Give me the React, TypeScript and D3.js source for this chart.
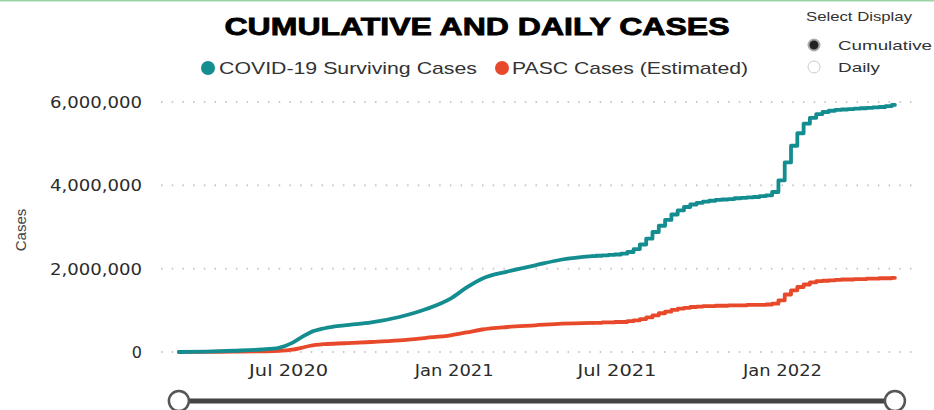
import React from "react";
import * as d3 from "d3";

// Daily-reported period (smooth cumulative totals)
const dailyDates = [
  "2020-03-01", "2020-04-01", "2020-05-01", "2020-06-01", "2020-06-20", "2020-07-05",
  "2020-07-15", "2020-07-25", "2020-08-10", "2020-09-01", "2020-10-01", "2020-11-01",
  "2020-12-01", "2020-12-28", "2021-01-15", "2021-02-01", "2021-03-01", "2021-04-01",
  "2021-05-01", "2021-06-04",
];
const survivingDaily = [
  0, 10000, 30000, 60000, 100000, 220000, 350000, 470000, 570000, 640000, 710000, 840000,
  1030000, 1280000, 1550000, 1760000, 1930000, 2080000, 2220000, 2300000,
];
const pascDaily = [
  0, 3000, 8000, 15000, 25000, 55000, 100000, 150000, 190000, 210000, 240000, 280000,
  340000, 400000, 470000, 540000, 600000, 640000, 680000, 700000,
];

// Weekly-reported period (Friday updates)
const weeklyDates = [
  "2021-06-04", "2021-06-11", "2021-06-18", "2021-06-25", "2021-07-02", "2021-07-09",
  "2021-07-16", "2021-07-23", "2021-07-30", "2021-08-06", "2021-08-13", "2021-08-20",
  "2021-08-27", "2021-09-03", "2021-09-10", "2021-09-17", "2021-09-24", "2021-10-01",
  "2021-10-08", "2021-10-15", "2021-10-22", "2021-10-29", "2021-11-05", "2021-11-12",
  "2021-11-19", "2021-11-26", "2021-12-03", "2021-12-10", "2021-12-17", "2021-12-24",
  "2021-12-31", "2022-01-07", "2022-01-14", "2022-01-21", "2022-01-28", "2022-02-04",
  "2022-02-11", "2022-02-18", "2022-02-25", "2022-03-04", "2022-03-11", "2022-03-18",
  "2022-03-25", "2022-04-01", "2022-04-08", "2022-04-15", "2022-04-22", "2022-04-29",
  "2022-05-06",
];
const survivingWeekly = [
  2300000, 2310000, 2320000, 2330000, 2340000, 2360000, 2400000, 2470000, 2580000,
  2720000, 2880000, 3030000, 3170000, 3300000, 3400000, 3480000, 3540000, 3580000,
  3610000, 3630000, 3650000, 3660000, 3670000, 3690000, 3700000, 3710000, 3720000,
  3740000, 3760000, 3840000, 4120000, 4550000, 4950000, 5250000, 5480000, 5620000,
  5710000, 5760000, 5790000, 5810000, 5820000, 5830000, 5840000, 5850000, 5860000,
  5870000, 5880000, 5900000, 5930000,
];
const pascWeekly = [
  700000, 700000, 710000, 710000, 720000, 720000, 740000, 760000, 790000, 830000,
  880000, 930000, 970000, 1010000, 1040000, 1060000, 1080000, 1090000, 1100000,
  1100000, 1110000, 1110000, 1120000, 1120000, 1120000, 1130000, 1130000, 1130000,
  1140000, 1160000, 1240000, 1380000, 1480000, 1560000, 1620000, 1670000, 1700000,
  1710000, 1720000, 1730000, 1740000, 1740000, 1750000, 1750000, 1760000, 1760000,
  1770000, 1770000, 1780000,
];

const yTicks = [0, 2000000, 4000000, 6000000];
const xTickDates = ["2020-07-01", "2021-01-01", "2021-07-01", "2022-01-01"];
const xDomain = ["2020-02-09", "2022-05-25"];

const seriesNames = ["COVID-19 Surviving Cases", "PASC Cases (Estimated)"];
const seriesColors = ["#138d90", "#e9492b"];
const displayOptions = ["Cumulative", "Daily"];

const W = 934;
const H = 410;
const parse = d3.utcParse("%Y-%m-%d");

export default function App() {
  const x = d3
    .scaleUtc()
    .domain(xDomain.map((d) => parse(d) as Date))
    .range([160, 912]);
  const y = d3.scaleLinear().domain([0, 6000000]).range([352, 102]);

  const smooth = d3
    .line<[Date, number]>()
    .x((d) => x(d[0]))
    .y((d) => y(d[1]))
    .curve(d3.curveMonotoneX);
  const stepped = d3
    .line<[Date, number]>()
    .x((d) => x(d[0]))
    .y((d) => y(d[1]))
    .curve(d3.curveStep);

  const zip = (dates: string[], vals: number[]) =>
    dates.map((d, i) => [parse(d) as Date, vals[i]] as [Date, number]);

  const series = [
    { daily: zip(dailyDates, survivingDaily), weekly: zip(weeklyDates, survivingWeekly) },
    { daily: zip(dailyDates, pascDaily), weekly: zip(weeklyDates, pascWeekly) },
  ];

  const fmt = d3.format(",");
  const fmtDate = d3.utcFormat("%b %Y");
  const font = "'Liberation Sans', Arial, sans-serif";
  const wideFont = "'DejaVu Sans', Verdana, sans-serif";

  const sliderStart = x(parse(dailyDates[0]) as Date);
  const sliderEnd = x(parse(weeklyDates[weeklyDates.length - 1]) as Date);

  return (
    <svg
      width={W}
      height={H}
      style={{ position: "absolute", left: 0, top: 0, background: "#fff" }}
      fontFamily={font}
    >
      <line x1={0} x2={W} y1={0.75} y2={0.75} stroke="#9ad3a6" strokeWidth={1.5} />

      {/* Title */}
      <text
        x={477}
        y={35}
        textAnchor="middle"
        fontSize={24}
        fontWeight={900}
        fill="#000"
        stroke="#000"
        strokeWidth={0.8}
        textLength={505}
        lengthAdjust="spacingAndGlyphs"
      >
        CUMULATIVE AND DAILY CASES
      </text>

      {/* Legend */}
      <g fontSize={17} fill="#333">
        <circle cx={208} cy={68} r={7} fill={seriesColors[0]} />
        <text x={219} y={74} textLength={258} lengthAdjust="spacingAndGlyphs">
          {seriesNames[0]}
        </text>
        <circle cx={502} cy={68} r={7} fill={seriesColors[1]} />
        <text x={512} y={74} textLength={236} lengthAdjust="spacingAndGlyphs">
          {seriesNames[1]}
        </text>
      </g>

      {/* Display selector */}
      <g fontSize={13} fill="#333">
        <text x={806} y={21} textLength={106} lengthAdjust="spacingAndGlyphs">
          Select Display
        </text>
        <circle cx={814} cy={45} r={5.5} fill="#222" stroke="#aaa" strokeWidth={2} />
        <text x={838} y={50} textLength={94} lengthAdjust="spacingAndGlyphs">
          {displayOptions[0]}
        </text>
        <circle cx={814} cy={67} r={6} fill="#fff" stroke="#ccc" strokeWidth={1} />
        <text x={838} y={72} textLength={42} lengthAdjust="spacingAndGlyphs">
          {displayOptions[1]}
        </text>
      </g>

      {/* Gridlines */}
      {yTicks.map((t) => (
        <line
          key={t}
          x1={161}
          x2={912}
          y1={y(t)}
          y2={y(t)}
          stroke="#c8c8c8"
          strokeWidth={2}
          strokeDasharray="1.5 9.2"
        />
      ))}

      {/* Y axis labels */}
      <g fontSize={16} fill="#2b2b2b" textAnchor="end" fontFamily={wideFont}>
        {yTicks.map((t) => {
          const label = fmt(t);
          return (
            <text
              key={t}
              x={142}
              y={y(t) + 6}
              textLength={label.length > 1 ? 92 : undefined}
              lengthAdjust="spacingAndGlyphs"
            >
              {label}
            </text>
          );
        })}
      </g>
      <text
        transform={`translate(26,230) rotate(-90)`}
        textAnchor="middle"
        fontSize={15}
        fill="#444"
      >
        Cases
      </text>

      {/* X axis labels */}
      <g fontSize={16} fill="#2b2b2b" textAnchor="middle" fontFamily={wideFont}>
        {xTickDates.map((d) => {
          const dt = parse(d) as Date;
          return (
            <text key={d} x={x(dt)} y={376} textLength={79} lengthAdjust="spacingAndGlyphs">
              {fmtDate(dt)}
            </text>
          );
        })}
      </g>

      {/* Lines */}
      {[1, 0].map((i) => (
        <g
          key={i}
          fill="none"
          stroke={seriesColors[i]}
          strokeWidth={3.8}
          strokeLinejoin="round"
          strokeLinecap="round"
        >
          <path d={smooth(series[i].daily) ?? ""} />
          <path d={stepped(series[i].weekly) ?? ""} />
        </g>
      ))}

      {/* Range slider */}
      <line
        x1={sliderStart}
        x2={sliderEnd}
        y1={401}
        y2={401}
        stroke="#444"
        strokeWidth={5}
      />
      <circle cx={sliderStart} cy={401} r={10} fill="#fff" stroke="#555" strokeWidth={2.5} />
      <circle cx={sliderEnd} cy={401} r={10} fill="#fff" stroke="#555" strokeWidth={2.5} />
    </svg>
  );
}
